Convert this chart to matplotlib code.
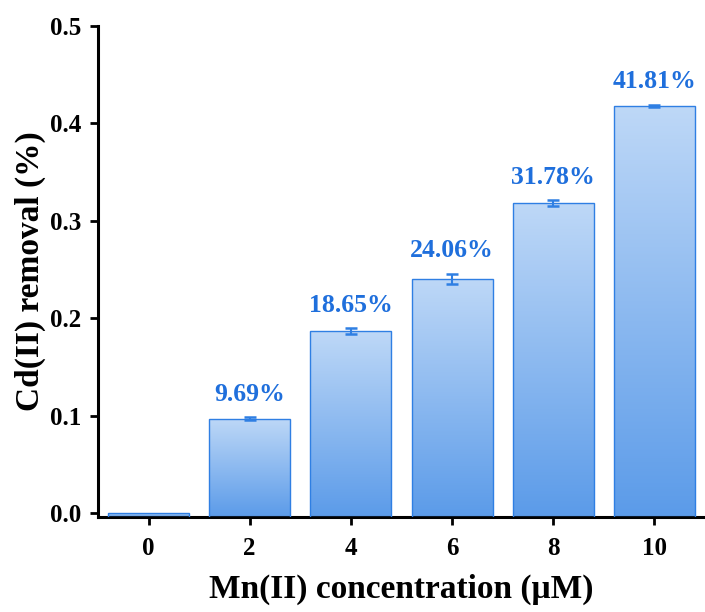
import numpy as np
import matplotlib
matplotlib.use("Agg")
import matplotlib.pyplot as plt
from matplotlib.colors import LinearSegmentedColormap

conc = [0, 2, 4, 6, 8, 10]
removal = [0.0005, 0.0969, 0.1865, 0.2406, 0.3178, 0.4181]
err = [np.nan, 0.0015, 0.003, 0.005, 0.003, 0.001]
labels = ["", "9.69%", "18.65%", "24.06%", "31.78%", "41.81%"]

plt.rcParams["font.family"] = ["Liberation Serif", "DejaVu Serif"]
plt.rcParams["font.weight"] = "bold"

EDGE = "#2f7fe3"
TXT = "#1f6fdc"
cmap = LinearSegmentedColormap.from_list("bar", ["#5b9be9", "#bed8f7"])

YMIN = -0.004

fig = plt.figure(figsize=(7.05, 6.12), dpi=100)
ax = fig.add_axes([0.139, 0.155, 0.861, 0.803])

# bars start at the bottom of the axis
heights = [r - YMIN for r in removal]
bars = ax.bar(conc, heights, bottom=YMIN, width=1.6, color="none",
              edgecolor=EDGE, lw=1.0, zorder=3)
ax.errorbar(conc, removal, yerr=err, fmt="none", ecolor=EDGE, elinewidth=1.5,
            capsize=4, capthick=1.8, zorder=4)

ax.set_xlim(-1, 11)
ax.set_ylim(YMIN, 0.5)

# vertical gradient fill clipped to each bar
grad = np.linspace(0, 1, 256).reshape(-1, 1)
for b in bars:
    x0, y0 = b.get_x(), b.get_y()
    w, h = b.get_width(), b.get_height()
    im = ax.imshow(grad, cmap=cmap, origin="lower", aspect="auto",
                   extent=[x0, x0 + w, y0, y0 + h], zorder=2)
    im.set_clip_path(b)

for x, y, e, t in zip(conc, removal, err, labels):
    if t:
        ax.text(x, y + e + 0.012, t, ha="center", va="bottom", color=TXT,
                fontsize=18.5, fontweight="bold")

ax.set_xticks(conc)
ax.set_yticks([0.0, 0.1, 0.2, 0.3, 0.4, 0.5])
ax.set_yticklabels(["0.0", "0.1", "0.2", "0.3", "0.4", "0.5"])
ax.tick_params(axis="both", labelsize=18, width=2, length=6, direction="out")
ax.tick_params(axis="x", pad=8)
ax.tick_params(axis="y", pad=6)
for s in ["top", "right"]:
    ax.spines[s].set_visible(False)
for s in ["left", "bottom"]:
    ax.spines[s].set_linewidth(2.2)

ax.set_xlabel("Mn(II) concentration (μM)", fontsize=24, fontweight="bold", labelpad=10)
ax.set_ylabel("Cd(II) removal (%)", fontsize=24, fontweight="bold", labelpad=3)

fig.savefig("out.png", dpi=100)
